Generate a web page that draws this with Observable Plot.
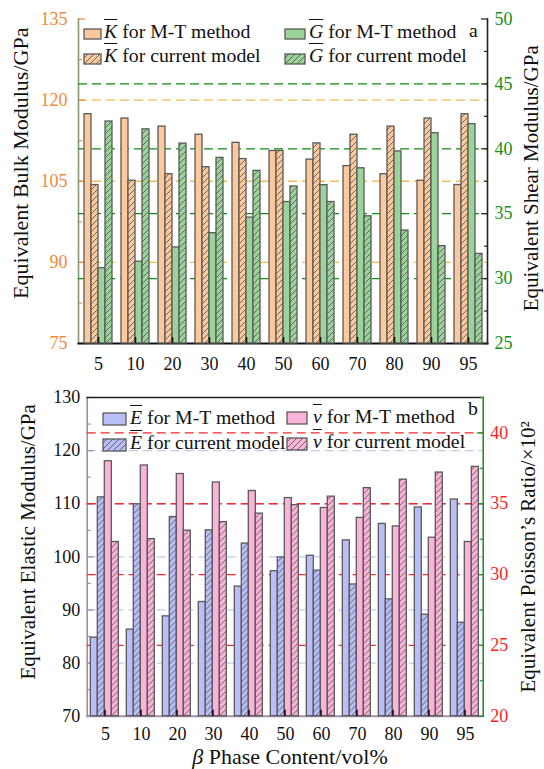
<!DOCTYPE html>
<html>
<head>
<meta charset="utf-8">
<script src="https://cdn.jsdelivr.net/npm/d3@7"></script>
<script src="https://cdn.jsdelivr.net/npm/@observablehq/plot@0.6"></script>
<style>
  html,body{margin:0;padding:0;background:#fff;}
  #chart{position:relative;width:544px;height:769px;overflow:hidden;font-family:"Liberation Serif","Tinos","Times New Roman",serif;color:#111;}
  #chart svg.layer{position:absolute;left:0;}
  .lg{position:absolute;white-space:nowrap;font-size:19.8px;line-height:19.8px;}
  .sym{font-style:italic;text-decoration:overline;text-decoration-thickness:1px;}
  .sw{position:absolute;}
  .xt{position:absolute;white-space:nowrap;font-size:22px;line-height:22px;}
</style>
</head>
<body>
<svg id="defs" width="0" height="0" style="position:absolute"><defs></defs></svg>
<div id="chart"></div>
<script>
// ---------------- data ----------------
const cats = [5, 10, 20, 30, 40, 50, 60, 70, 80, 90, 95];
const bulkMT   = [117.4, 116.6, 115.1, 113.6, 112.1, 110.6, 109.0, 107.8, 106.3, 105.1, 104.3];
const bulkCur  = [104.3, 105.1, 106.3, 107.6, 109.1, 110.6, 112.0, 113.6, 115.1, 116.6, 117.4];
const shearMT  = [30.8, 31.3, 32.4, 33.5, 34.7, 35.9, 37.2, 38.5, 39.8, 41.2, 41.9];
const shearCur = [42.1, 41.5, 40.4, 39.3, 38.3, 37.1, 35.9, 34.8, 33.7, 32.5, 31.9];
const elasticMT  = [84.8, 86.3, 88.8, 91.5, 94.4, 97.3, 100.2, 103.1, 106.2, 109.3, 110.8];
const elasticCur = [111.2, 109.9, 107.5, 105.0, 102.5, 99.9, 97.4, 94.8, 92.0, 89.1, 87.6];
const poissonMT  = [38.0, 37.7, 37.1, 36.5, 35.9, 35.4, 34.7, 34.0, 33.4, 32.6, 32.3];
const poissonCur = [32.3, 32.5, 33.1, 33.7, 34.3, 34.9, 35.5, 36.1, 36.7, 37.2, 37.6];

const bulkTicks = [75, 90, 105, 120, 135];
const bulkMinor = [82.5, 97.5, 112.5, 127.5];
const shearTicks = [25, 30, 35, 40, 45, 50];
const shearMinor = [27.5, 32.5, 37.5, 42.5, 47.5];
const elasticTicks = [70, 80, 90, 100, 110, 120, 130];
const elasticMinor = [75, 85, 95, 105, 115, 125];
const poissonTicks = [20, 25, 30, 35, 40];
const poissonMinor = [22.5, 27.5, 32.5, 37.5, 42.5];

const catLabels = cats.map(String);
const seriesKeys = ["mt1", "cur1", "mt2", "cur2"];

// ---------------- styles ----------------
const FONT = '"Liberation Serif","Tinos","Times New Roman",serif';
const BAR_STROKE = "#5a5a5a";
const colors = {
  orange: "#fdc89b", green: "#9bd49b", blue: "#b9bff6", pink: "#fbb3d8"
};

// hatch patterns
const defs = d3.select("#defs defs");
for (const [name, c] of Object.entries(colors)) {
  const p = defs.append("pattern").attr("id", "hatch-" + name)
    .attr("patternUnits", "userSpaceOnUse").attr("width", 6).attr("height", 6);
  p.append("rect").attr("width", 6).attr("height", 6).attr("fill", c);
  p.append("path").attr("d", "M-1.5,1.5L1.5,-1.5M0,6L6,0M4.5,7.5L7.5,4.5")
    .attr("stroke", "#4a4a4a").attr("stroke-width", 0.8);
}

const panels = [
  {
    top: 0, height: 380,
    margin: {top: 18.5, right: 57, bottom: 37, left: 78},
    xLabelPad: 14,
    primary: {domain: [75, 135], major: bulkTicks, minor: bulkMinor, grid: bulkTicks.slice(1, -1),
      gridColor: "#efbe57", labelColor: "#f28a3a", tickColor: "#f28a3a", labelPad: 11,
      title: "Equivalent Bulk Modulus/GPa", titleDx: -58, titleDy: -18, titleSize: 22, line: "#869874"},
    secondary: {domain: [25, 50], major: shearTicks, minor: shearMinor, grid: shearTicks.slice(1, -1),
      gridColor: "#138a13", labelColor: "#179017", tickColor: "#222", labelPad: 7,
      title: "Equivalent Shear Modulus/GPa", titleDx: 44, titleDy: -3, titleSize: 21, line: "#222"},
    bottomLine: "#111", topLine: null,
    bars: [
      {key: "mt1", values: bulkMT, fill: colors.orange, axis: "primary"},
      {key: "cur1", values: bulkCur, fill: "url(#hatch-orange)", axis: "primary"},
      {key: "mt2", values: shearMT, fill: colors.green, axis: "secondary"},
      {key: "cur2", values: shearCur, fill: "url(#hatch-green)", axis: "secondary"}
    ],
    legend: [
      {sx: 84, sy: 29, sw: 17, sh: 10, fill: colors.orange, tx: 104, base: 38.5, sym: "K", text: " for M-T method"},
      {sx: 84, sy: 54, sw: 17, sh: 10, fill: "url(#hatch-orange)", tx: 104, base: 63, sym: "K", text: " for current model"},
      {sx: 285, sy: 29, sw: 20, sh: 10, fill: colors.green, tx: 309, base: 38.5, sym: "G", text: " for M-T method"},
      {sx: 285, sy: 54, sw: 20, sh: 10, fill: "url(#hatch-green)", tx: 309, base: 63, sym: "G", text: " for current model"}
    ],
    tag: {text: "a", x: 469, base: 38}
  },
  {
    top: 380, height: 389,
    margin: {top: 17, right: 61.3, bottom: 53.3, left: 86.7},
    xLabelPad: 11,
    primary: {domain: [70, 130], major: elasticTicks, minor: elasticMinor, grid: elasticTicks.slice(1, -1),
      gridColor: "#c3c9f3", labelColor: "#111", tickColor: "#a58aa8", labelPad: 7,
      title: "Equivalent Elastic Modulus/GPa", titleDx: -59, titleDy: -15, titleSize: 21, line: "#a48cab"},
    secondary: {domain: [20, 42.5], major: poissonTicks, minor: poissonMinor, grid: poissonTicks.slice(1),
      gridColor: "#ee2a2a", labelColor: "#ff1f1f", tickColor: "#2c8c2c", labelPad: 7,
      title: "Equivalent Poisson\u2019s Ratio/\u00d710\u00b2", titleDx: 45, titleDy: 0, titleSize: 21, line: "#2c8c2c"},
    bottomLine: "#a48cab", topLine: "#222",
    bars: [
      {key: "mt1", values: elasticMT, fill: colors.blue, axis: "primary"},
      {key: "cur1", values: elasticCur, fill: "url(#hatch-blue)", axis: "primary"},
      {key: "mt2", values: poissonMT, fill: colors.pink, axis: "secondary"},
      {key: "cur2", values: poissonCur, fill: "url(#hatch-pink)", axis: "secondary"}
    ],
    legend: [
      {sx: 103, sy: 413, sw: 23, sh: 12, fill: colors.blue, tx: 130, base: 425, sym: "E", text: " for M-T method"},
      {sx: 103, sy: 439, sw: 23, sh: 12, fill: "url(#hatch-blue)", tx: 130, base: 450, sym: "E", text: " for current model"},
      {sx: 287, sy: 412, sw: 20, sh: 12, fill: colors.pink, tx: 313, base: 424, sym: "\u03bd", text: " for M-T method"},
      {sx: 287, sy: 438, sw: 20, sh: 12, fill: "url(#hatch-pink)", tx: 313, base: 449, sym: "\u03bd", text: " for current model"}
    ],
    tag: {text: "b", x: 468, base: 416}
  }
];

const chart = document.getElementById("chart");

function rows(values, key) {
  return cats.map((c, i) => ({cat: String(c), series: key, value: values[i]}));
}

function common(p) {
  return {
    width: 544, height: p.height,
    marginTop: p.margin.top, marginRight: p.margin.right,
    marginBottom: p.margin.bottom, marginLeft: p.margin.left,
    style: {fontFamily: FONT, fontSize: "18px", background: "transparent", overflow: "visible", color: "#111"}
  };
}

function place(svg, p) {
  svg.classList.add("layer");
  svg.style.top = p.top + "px";
  svg.style.position = "absolute";
  svg.style.fontFamily = FONT;
  chart.appendChild(svg);
}

function backPlot(p, side) {
  const s = p[side];
  const isLeft = side === "primary";
  const anchor = isLeft ? "left" : "right";
  const marks = [
    Plot.ruleY(s.grid, {stroke: s.gridColor, strokeWidth: 1.3, strokeDasharray: "9,5"}),
    Plot.axisY({anchor, ticks: s.major, tickSize: -7, tickFormat: () => "", color: s.tickColor, strokeWidth: 1.2, label: null}),
    Plot.axisY({anchor, ticks: s.minor, tickSize: -4, tickFormat: () => "", color: s.tickColor, strokeWidth: 1.2, label: null}),
    Plot.axisY({anchor, ticks: s.major, tickSize: 0, tickPadding: s.labelPad, color: s.labelColor, fontSize: 18, fontFamily: FONT, label: null, tickFormat: d => String(d)}),
    Plot.text([s.title], {text: d => d, frameAnchor: anchor, textAnchor: "middle", rotate: -90, dx: s.titleDx, dy: s.titleDy, fontSize: s.titleSize, fontFamily: FONT, fill: "#111", lineAnchor: "middle"}),
    Plot.frame({anchor, stroke: s.line, strokeWidth: 1.6})
  ];
  if (isLeft) {
    marks.push(Plot.axisX({tickSize: 0, tickPadding: p.xLabelPad, fontSize: 18, fontFamily: FONT, color: "#111", label: null}));
    marks.push(Plot.frame({anchor: "bottom", stroke: p.bottomLine, strokeWidth: 2}));
    if (p.topLine) marks.push(Plot.frame({anchor: "top", stroke: p.topLine, strokeWidth: 1.6}));
  }
  return Plot.plot({
    ...common(p),
    x: {domain: catLabels, paddingInner: 0.19, paddingOuter: 0.095, axis: null},
    y: {domain: s.domain, axis: null},
    marks
  });
}

function frontPlot(p, side) {
  const s = p[side];
  const marks = p.bars.filter(b => b.axis === side).map(b =>
    Plot.barY(rows(b.values, b.key), {fx: "cat", x: "series", y1: s.domain[0], y2: "value",
      fill: b.fill, stroke: BAR_STROKE, strokeWidth: 1.3}));
  if (side === "secondary") {
    marks.push(Plot.axisFx({anchor: "bottom", tickSize: -6, tickFormat: () => "", color: "#111", strokeWidth: 1.6, label: null}));
  }
  return Plot.plot({
    ...common(p),
    fx: {domain: catLabels, paddingInner: 0.19, paddingOuter: 0.095, axis: null},
    x: {domain: seriesKeys, padding: 0, axis: null},
    y: {domain: s.domain, axis: null},
    marks
  });
}

for (const p of panels) {
  place(backPlot(p, "primary"), p);
  place(backPlot(p, "secondary"), p);
  place(frontPlot(p, "primary"), p);
  place(frontPlot(p, "secondary"), p);

  // legend
  for (const it of p.legend) {
    const sw = d3.create("svg").attr("class", "sw").attr("width", it.sw + 2).attr("height", it.sh + 2)
      .style("left", (it.sx - 1) + "px").style("top", (it.sy - 1) + "px");
    sw.append("rect").attr("x", 1).attr("y", 1).attr("width", it.sw).attr("height", it.sh)
      .attr("fill", it.fill).attr("stroke", BAR_STROKE).attr("stroke-width", 1.3);
    chart.appendChild(sw.node());
    const t = document.createElement("div");
    t.className = "lg";
    t.style.left = it.tx + "px";
    t.style.top = (it.base - 16.6) + "px";
    const sym = document.createElement("span");
    sym.className = "sym";
    sym.textContent = it.sym;
    t.appendChild(sym);
    t.appendChild(document.createTextNode(it.text));
    chart.appendChild(t);
  }
  const tag = document.createElement("div");
  tag.className = "lg";
  tag.style.left = p.tag.x + "px";
  tag.style.top = (p.tag.base - 16.6) + "px";
  tag.textContent = p.tag.text;
  chart.appendChild(tag);
}

// x-axis title
const xt = document.createElement("div");
xt.className = "xt";
xt.style.left = "0px";
xt.style.width = "580px";
xt.style.textAlign = "center";
xt.style.top = (764 - 18.4) + "px";
xt.innerHTML = '<span style="font-style:italic">\u03b2</span> Phase Content/vol%';
chart.appendChild(xt);
</script>
</body>
</html>
